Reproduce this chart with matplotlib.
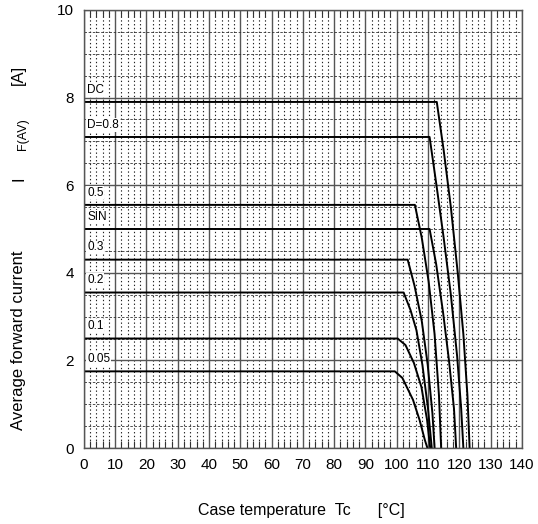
import matplotlib.pyplot as plt
from matplotlib.ticker import MultipleLocator

plt.rcParams['font.family'] = ['Liberation Sans', 'DejaVu Sans']

# curves: flat part from 0 degC, then the derating drop
curve_names = ["DC", "D=0.8", "0.5", "SIN", "0.3", "0.2", "0.1", "0.05"]

dc_t = [0, 112.8, 115.0, 117.3, 119.5, 121.3, 122.6, 123.3]
dc_i = [7.9, 7.9, 6.8, 5.5, 4.0, 2.6, 1.2, 0]

d08_t = [0, 110.5, 112.7, 115.0, 117.3, 119.3, 120.6, 121.3]
d08_i = [7.1, 7.1, 6.0, 4.8, 3.5, 2.1, 0.9, 0]

d05_t = [0, 105.8, 108.0, 110.2, 112.1, 113.5, 114.2]
d05_i = [5.55, 5.55, 4.8, 3.8, 2.6, 1.2, 0]

sin_t = [0, 110.5, 112.6, 114.8, 116.7, 118.3, 119.0]
sin_i = [5.0, 5.0, 4.2, 3.1, 2.0, 0.9, 0]

d03_t = [0, 103.5, 105.7, 108.0, 109.9, 111.4, 112.1]
d03_i = [4.3, 4.3, 3.7, 2.9, 1.9, 0.8, 0]

d02_t = [0, 102.2, 104.4, 106.3, 108.2, 110.0, 111.2]
d02_i = [3.55, 3.55, 3.15, 2.69, 1.9, 0.9, 0]

d01_t = [0, 100.3, 102.8, 105.5, 107.9, 109.7, 110.7]
d01_i = [2.5, 2.5, 2.35, 1.94, 1.39, 0.64, 0]

d005_t = [0, 99.4, 101.8, 105.2, 107.3, 109.0, 109.8]
d005_i = [1.75, 1.75, 1.6, 1.1, 0.64, 0.18, 0]

curves = [(dc_t, dc_i), (d08_t, d08_i), (d05_t, d05_i), (sin_t, sin_i),
          (d03_t, d03_i), (d02_t, d02_i), (d01_t, d01_i), (d005_t, d005_i)]

x_ticks = list(range(0, 141, 10))
y_ticks = list(range(0, 11, 2))

fig = plt.figure(figsize=(5.38, 5.24), dpi=100)
ax = fig.add_axes([0.156, 0.145, 0.814, 0.836])

ax.set_xlim(0, 140)
ax.set_ylim(0, 10)
ax.set_xticks(x_ticks)
ax.set_yticks(y_ticks)
ax.xaxis.set_minor_locator(MultipleLocator(2))
ax.yaxis.set_minor_locator(MultipleLocator(0.5))

# graph paper look
ax.grid(which='major', color='#555555', lw=1.0, ls='-')
ax.grid(which='minor', axis='x', color='#222222', lw=0.8, ls=(0, (1.2, 2.2)))
ax.grid(which='minor', axis='y', color='#333333', lw=0.6, ls=(0, (3, 2)))
ax.set_axisbelow(True)

ax.tick_params(which='major', length=0, pad=7, labelsize=11)
ax.tick_params(which='minor', direction='in', length=5, width=0.8,
               top=True, bottom=True, left=False, right=False, color='#333333')
for s in ax.spines.values():
    s.set_color('#555555')
    s.set_linewidth(1.0)

for name, (t, i) in zip(curve_names, curves):
    ax.plot(t, i, color='black', lw=1.4)
    ax.text(1, i[0] + 0.28, name, fontsize=8.5, va='center', ha='left',
            bbox=dict(facecolor='white', edgecolor='none', pad=0.6))

fig.text(0.56, 0.012, "Case temperature  Tc      [\u00b0C]", fontsize=11.5,
         ha='center', va='bottom')

fig.text(0.035, 0.179, "Average forward current", fontsize=12,
         rotation=90, ha='center', va='bottom')
fig.text(0.035, 0.655, "I", fontsize=12, rotation=90, ha='center', va='bottom')
fig.text(0.042, 0.714, "F(AV)", fontsize=9, rotation=90, ha='center', va='bottom')
fig.text(0.035, 0.838, "[A]", fontsize=12, rotation=90, ha='center', va='bottom')

fig.savefig("out.png", dpi=100)
